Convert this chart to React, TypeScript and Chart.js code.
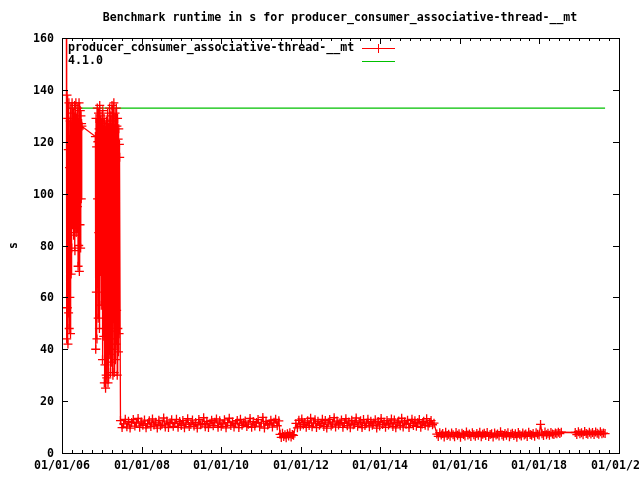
import React, { useEffect, useRef } from "react";
import { Chart, registerables } from "chart.js";

Chart.register(...registerables);

// ---------- text ----------
const TITLE = "Benchmark runtime in s for producer_consumer_associative-thread-__mt";
const SERIES_NAME = "producer_consumer_associative-thread-__mt";
const BASELINE_NAME = "4.1.0";
const Y_TITLE = "s";

// ---------- axes ----------
const X_MIN = 2006;
const X_MAX = 2020;
const X_MAJOR_YEARS = [2006, 2008, 2010, 2012, 2014, 2016, 2018, 2020];
const X_TICK_LABELS = ["01/01/06", "01/01/08", "01/01/10", "01/01/12", "01/01/14", "01/01/16", "01/01/18", "01/01/20"];
const X_MINOR_STEP = 0.25;
const Y_TICKS = [0, 20, 40, 60, 80, 100, 120, 140, 160];

// ---------- baseline (4.1.0) ----------
const BASELINE_VALUE = 133;
const BASELINE_DATES = [2006.15, 2019.65];

// ---------- runtime series, by period (decimal-year span + values) ----------
const cluster1Span = [2006.11, 2006.5];
const cluster1Values = [170, 44, 138, 56, 129, 42, 117, 54, 135, 48, 110, 60, 128, 46, 133, 69, 122, 79,
  135, 88, 118, 97, 131, 84, 126, 102, 134, 78, 124, 92, 135, 85, 129, 106, 121, 95, 133, 72, 127, 80,
  135, 70, 125, 88, 132, 79, 130, 98, 127, 126];

const cluster2Span = [2006.84, 2007.45];
const cluster2Values = [122, 40, 129, 62, 118, 44, 133, 98, 120, 52, 131, 85, 125, 48, 134, 100, 121, 70,
  130, 57, 127, 92, 118, 36, 132, 75, 124, 45, 129, 27, 120, 34, 126, 25, 117, 30, 128, 29, 122, 66, 131,
  27, 119, 52, 127, 38, 133, 44, 121, 31, 130, 58, 125, 35, 134, 40, 122, 30, 128, 62, 135, 31, 124, 47,
  131, 36, 120, 42, 133, 55, 126, 30, 129, 48, 121, 39, 125, 46, 119, 114];

const band1Span = [2007.47, 2011.45];
const band1Values = [12.5, 9.8, 11.2, 13.0, 10.1, 12.2, 9.6, 11.8, 12.9, 10.4, 11.5, 13.3, 9.9, 12.0, 10.7,
  12.7, 9.7, 11.3, 12.4, 10.2, 13.1, 10.8, 11.9, 9.6, 12.6, 10.5, 11.1, 13.5, 10.0, 12.3, 9.8, 11.7, 12.8,
  10.3, 11.4, 13.0, 9.9, 12.1, 10.6, 12.5, 9.7, 11.6, 13.2, 10.2, 11.0, 12.7, 10.4, 11.8, 9.6, 12.9, 10.9,
  11.3, 13.6, 10.1, 12.2, 9.8, 11.5, 12.6, 10.5, 11.9, 13.1, 9.9, 12.4, 10.3, 11.2, 12.8, 9.7, 11.7, 13.4,
  10.6, 12.0, 10.0, 11.4, 12.5, 9.8, 13.0, 10.7, 11.6, 12.3, 10.2, 11.1, 13.3, 9.9, 12.1, 10.4, 11.8, 12.9,
  10.1, 11.5, 13.7, 9.6, 12.2, 10.8, 11.3, 12.6, 10.0, 11.9, 13.0, 10.5, 12.4];

const dipSpan = [2011.48, 2011.82];
const dipValues = [7.2, 6.0, 7.6, 6.4, 7.0, 5.9, 7.4, 6.6, 7.8, 6.2, 7.1, 6.8];

const band2Span = [2011.88, 2015.35];
const band2Values = [11.4, 9.7, 12.6, 10.3, 13.1, 10.9, 11.8, 9.9, 12.4, 10.6, 13.4, 10.1, 11.5, 12.8, 9.8,
  12.2, 10.7, 11.3, 13.0, 10.2, 12.5, 9.6, 11.9, 12.9, 10.4, 11.1, 13.6, 10.0, 12.3, 10.8, 11.7, 12.7, 9.9,
  11.4, 13.2, 10.5, 12.0, 9.7, 12.6, 10.9, 11.2, 13.5, 10.3, 11.8, 12.4, 9.8, 12.9, 10.6, 11.5, 13.0, 10.1,
  12.2, 10.7, 11.6, 12.8, 9.6, 12.1, 10.4, 13.3, 11.0, 11.9, 9.9, 12.5, 10.8, 11.3, 13.1, 10.2, 12.7, 9.7,
  11.7, 12.3, 10.5, 13.4, 10.0, 12.0, 11.1, 12.6, 9.8, 11.4, 13.0, 10.6, 12.4, 10.3, 11.8, 12.9, 9.9, 11.2,
  12.2, 10.7, 13.2, 10.4, 11.6, 12.5, 10.9, 11.5];

const lowBandSpan = [2015.42, 2018.55];
const lowBandValues = [7.3, 6.4, 7.8, 6.9, 7.5, 6.2, 8.0, 6.7, 7.2, 6.5, 7.7, 7.0, 6.3, 7.9, 6.8, 7.4, 6.1,
  7.6, 7.1, 6.6, 8.1, 6.9, 7.3, 6.4, 7.8, 7.0, 6.5, 7.5, 6.8, 8.0, 6.3, 7.2, 7.6, 6.7, 7.9, 6.4, 7.1, 7.4,
  6.2, 7.7, 6.9, 7.3, 6.6, 8.2, 7.0, 6.5, 7.5, 6.8, 7.8, 6.3, 7.2, 7.6, 6.7, 7.4, 6.1, 7.9, 7.0, 6.6, 7.7,
  6.9, 7.3, 6.4, 8.0, 7.1, 6.8, 7.5, 6.5, 7.8, 7.2, 6.9, 11.0, 7.4, 6.7, 8.1, 7.0, 7.6, 6.8, 7.9, 7.3, 7.1,
  7.7, 7.4, 8.0, 7.5, 8.0];

const lastBandSpan = [2018.9, 2019.65];
const lastBandValues = [7.9, 7.1, 8.2, 7.4, 7.8, 7.0, 8.3, 7.5, 7.2, 8.0, 7.3, 7.9, 7.1, 8.1, 7.6, 7.2, 8.2,
  7.4, 7.7, 7.5];

const PERIODS: [number[], number[]][] = [
  [cluster1Span, cluster1Values],
  [cluster2Span, cluster2Values],
  [band1Span, band1Values],
  [dipSpan, dipValues],
  [band2Span, band2Values],
  [lowBandSpan, lowBandValues],
  [lastBandSpan, lastBandValues],
];

// ---------- styles ----------
const RED = "#ff0000";
const GREEN = "#00c000";
const FONT = "bold 11.6px 'DejaVu Sans Mono', 'Liberation Mono', monospace";

function buildSeries() {
  const pts: { x: number; y: number }[] = [];
  for (const [span, vals] of PERIODS) {
    const n = vals.length;
    for (let i = 0; i < n; i++) {
      const x = n > 1 ? span[0] + ((span[1] - span[0]) * i) / (n - 1) : span[0];
      pts.push({ x, y: vals[i] });
    }
  }
  return pts;
}

const framePlugin = {
  id: "gnuplotFrame",
  afterDraw(chart: any) {
    const { ctx, chartArea: a, scales } = chart;
    const xs = scales.x;
    const ys = scales.y;
    ctx.save();
    ctx.strokeStyle = "#000";
    ctx.fillStyle = "#000";
    ctx.lineWidth = 1;
    ctx.strokeRect(a.left + 0.5, a.top + 0.5, a.right - a.left, a.bottom - a.top);

    ctx.font = FONT;
    ctx.textAlign = "right";
    ctx.textBaseline = "middle";
    for (const v of Y_TICKS) {
      const py = Math.round(ys.getPixelForValue(v)) + 0.5;
      ctx.beginPath();
      ctx.moveTo(a.left, py);
      ctx.lineTo(a.left + 6, py);
      ctx.moveTo(a.right, py);
      ctx.lineTo(a.right - 6, py);
      ctx.stroke();
      ctx.fillText(String(v), a.left - 8, py);
    }

    const nSteps = Math.round((X_MAX - X_MIN) / X_MINOR_STEP);
    for (let i = 0; i <= nSteps; i++) {
      const t = X_MIN + i * X_MINOR_STEP;
      const major = X_MAJOR_YEARS.indexOf(t) >= 0;
      const len = major ? 6 : 3;
      const px = Math.round(xs.getPixelForValue(t)) + 0.5;
      ctx.beginPath();
      ctx.moveTo(px, a.bottom);
      ctx.lineTo(px, a.bottom - len);
      ctx.moveTo(px, a.top);
      ctx.lineTo(px, a.top + len);
      ctx.stroke();
    }
    ctx.textAlign = "center";
    X_MAJOR_YEARS.forEach((yr, i) => {
      const px = Math.round(xs.getPixelForValue(yr));
      ctx.fillText(X_TICK_LABELS[i], px, a.bottom + 13);
    });

    ctx.fillText(TITLE, 340, 18);

    ctx.save();
    ctx.translate(14, (a.top + a.bottom) / 2);
    ctx.rotate(-Math.PI / 2);
    ctx.fillText(Y_TITLE, 0, 0);
    ctx.restore();

    const ds = chart.data.datasets;
    const rows = [48, 61];
    ds.forEach((d: any, i: number) => {
      const ry = rows[i] + 0.5;
      ctx.fillStyle = "#000";
      ctx.textAlign = "left";
      ctx.fillText(d.label, a.left + 6, rows[i]);
      ctx.strokeStyle = d.borderColor;
      ctx.lineWidth = 1;
      ctx.beginPath();
      ctx.moveTo(362, ry);
      ctx.lineTo(395, ry);
      if (d.pointRadius > 0) {
        ctx.moveTo(378.5, ry - 4.5);
        ctx.lineTo(378.5, ry + 4.5);
      }
      ctx.stroke();
    });
    ctx.restore();
  },
};

export default function App() {
  const ref = useRef<HTMLCanvasElement | null>(null);
  useEffect(() => {
    if (!ref.current) return;
    const series = buildSeries();
    const chart = new Chart(ref.current, {
      type: "line",
      data: {
        datasets: [
          {
            label: SERIES_NAME,
            data: series,
            borderColor: RED,
            backgroundColor: RED,
            borderWidth: 1.3,
            pointStyle: "cross",
            pointRadius: 4.5,
            pointBorderWidth: 1.3,
            pointBorderColor: RED,
            pointHoverRadius: 4.5,
            tension: 0,
          },
          {
            label: BASELINE_NAME,
            data: BASELINE_DATES.map((x) => ({ x, y: BASELINE_VALUE })),
            borderColor: GREEN,
            backgroundColor: GREEN,
            borderWidth: 1.2,
            pointRadius: 0,
            tension: 0,
          },
        ],
      },
      options: {
        animation: false,
        responsive: false,
        maintainAspectRatio: false,
        events: [],
        layout: { padding: { left: 62, top: 38, right: 21, bottom: 27 } },
        plugins: {
          legend: { display: false },
          title: { display: false },
          tooltip: { enabled: false },
        },
        scales: {
          x: { type: "linear", min: X_MIN, max: X_MAX, display: false },
          y: { type: "linear", min: 0, max: 160, display: false },
        },
      },
      plugins: [framePlugin],
    });
    return () => chart.destroy();
  }, []);
  return (
    <div style={{ position: "absolute", left: 0, top: 0, width: 640, height: 480, background: "#fff" }}>
      <canvas ref={ref} width={640} height={480} />
    </div>
  );
}
